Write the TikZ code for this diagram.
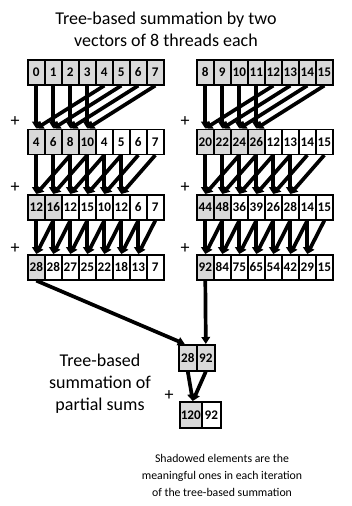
\documentclass[tikz,border=0pt]{standalone}
\usepackage{fontspec}
\setmainfont{Carlito}
\usetikzlibrary{arrows.meta}
\definecolor{shade}{HTML}{D9D9D9}
\newcommand\cellrow[5]{%
  \foreach \v [count=\k] in {#5} {
    \pgfmathtruncatemacro\i{\k-1}
    \ifnum\k>#4 \def\fc{white}\else\def\fc{shade}\fi
    \node[cell,fill=\fc] (#1-\i) at ({#2+17*\i},#3) {\v};
  }}
\begin{document}
\begin{tikzpicture}[x=1pt,y=-1pt,
  cell/.style={draw,line width=1.6pt,minimum width=17pt,minimum height=25pt,inner sep=0pt,
    font=\fontsize{13.2}{13}\selectfont\bfseries,anchor=north west},
  arr/.style={line width=3.7pt,-{Triangle[length=7pt,width=8.5pt]}},
  lbl/.style={font=\fontsize{18}{22}\selectfont,align=center},
  plus/.style={font=\fontsize{18}{18}\selectfont,inner sep=0pt},
]
\useasboundingbox (0,0) rectangle (352,506);

% left vector
\cellrow{L1}{27}{59}{8}{0,1,2,3,4,5,6,7}
\cellrow{L2}{27}{128.5}{4}{4,6,8,10,4,5,6,7}
\cellrow{L3}{27}{194}{2}{12,16,12,15,10,12,6,7}
\cellrow{L4}{27}{254}{1}{28,28,27,25,22,18,13,7}
% right vector
\cellrow{R1}{196}{59}{8}{8,9,10,11,12,13,14,15}
\cellrow{R2}{196}{128.5}{4}{20,22,24,26,12,13,14,15}
\cellrow{R3}{196}{194}{2}{44,48,36,39,26,28,14,15}
\cellrow{R4}{196}{254}{1}{92,84,75,65,54,42,29,15}

% partial sums
\node[cell,fill=shade,minimum width=18pt,minimum height=26pt] (P1-0) at (178,344) {28};
\node[cell,fill=shade,minimum width=18pt,minimum height=26pt] (P1-1) at (196,344) {92};
\node[cell,fill=shade,minimum width=22pt,minimum height=26pt] (P2-0) at (179,401) {120};
\node[cell,fill=white,minimum width=19pt,minimum height=26pt] (P2-1) at (201,401) {92};

% stages
\foreach \g in {L,R}{
  \foreach \i in {0,...,3}{
    \pgfmathtruncatemacro\j{\i+4}
    \draw[arr] (\g1-\i.south) -- (\g2-\i.north);
    \draw[arr] (\g1-\j.south) -- (\g2-\i.north);
  }
  \foreach \i in {0,...,5}{
    \pgfmathtruncatemacro\j{\i+2}
    \draw[arr] (\g2-\i.south) -- (\g3-\i.north);
    \draw[arr] (\g2-\j.south) -- (\g3-\i.north);
  }
  \foreach \i in {0,...,6}{
    \pgfmathtruncatemacro\j{\i+1}
    \draw[arr] (\g3-\i.south) -- (\g4-\i.north);
    \draw[arr] (\g3-\j.south) -- (\g4-\i.north);
  }
}
\draw[arr] (L4-0.south) -- ([xshift=-3pt]P1-0.north);
\draw[arr] (R4-0.south) -- (P1-1.north);
\draw[arr] (P1-0.south) -- ([xshift=2pt]P2-0.north);
\draw[arr] (P1-1.south) -- ([xshift=2pt]P2-0.north);

% plus signs
\foreach \y [count=\n] in {122,188,249}{
  \node[plus] (pl\n) at (15,\y) {+};
  \node[plus] (pr\n) at (185,\y) {+};
}
\node[plus] (pp) at (169,396) {+};

% labels
\node[lbl] (title) at (166,29) {Tree-based summation by two\\vectors of 8 threads each};
\node[lbl] (mid) at (100,384) {Tree-based\\summation of\\partial sums};
\node[font=\fontsize{11.8}{17}\selectfont,align=center] (note) at (222,475)
  {Shadowed elements are the\\meaningful ones in each iteration\\of the tree-based summation};
\end{tikzpicture}
\end{document}
